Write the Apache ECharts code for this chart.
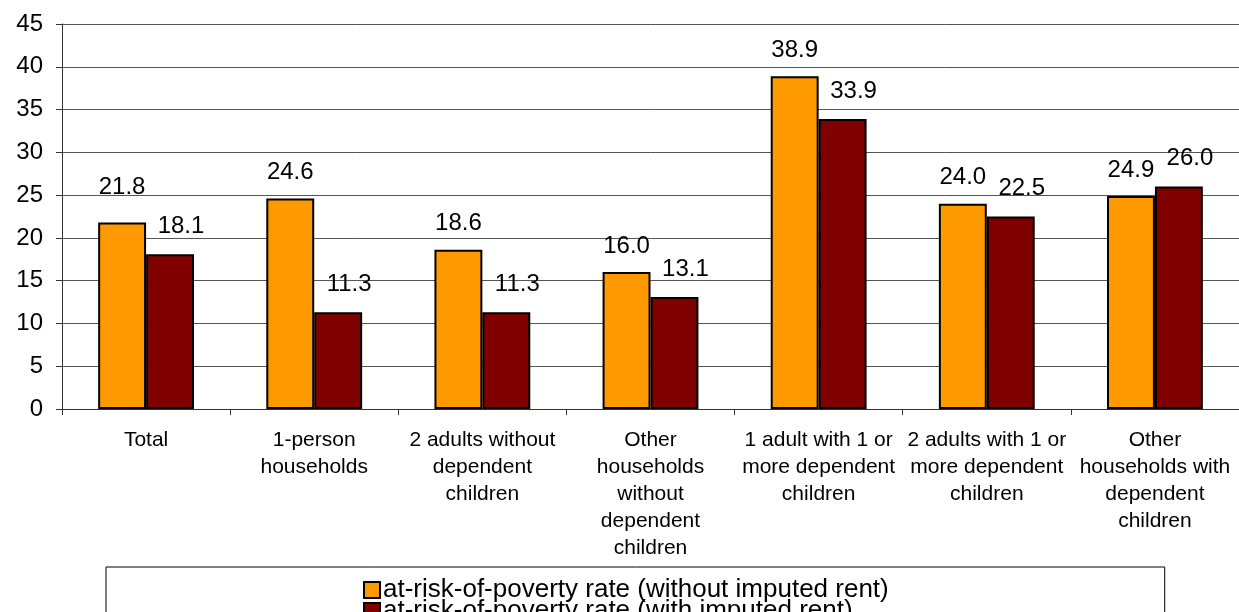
<!DOCTYPE html>
<html>
<head>
<meta charset="utf-8">
<script src="https://cdn.jsdelivr.net/npm/echarts@6/dist/echarts.min.js"></script>
<style>
  html, body { margin: 0; padding: 0; background: #fff; }
  #chart { width: 1239px; height: 612px; }
</style>
</head>
<body>
<div id="chart"></div>
<script>
var categories = [
  'Total',
  '1-person\nhouseholds',
  '2 adults without\ndependent\nchildren',
  'Other\nhouseholds\nwithout\ndependent\nchildren',
  '1 adult with 1 or\nmore dependent\nchildren',
  '2 adults with 1 or\nmore dependent\nchildren',
  'Other\nhouseholds with\ndependent\nchildren'
]
var seriesNames = [
  'at-risk-of-poverty rate (without imputed rent)',
  'at-risk-of-poverty rate (with imputed rent)'
]
var withoutRent = [21.8, 24.6, 18.6, 16.0, 38.9, 24.0, 24.9]
var withRent = [18.1, 11.3, 11.3, 13.1, 33.9, 22.5, 26.0]
var yTicks = [0, 5, 10, 15, 20, 25, 30, 35, 40, 45]

var font = "'Liberation Sans', Arial, sans-serif"

var echart = echarts.init(document.getElementById('chart'))

// first label in the reference sits a bit higher than the rest
var orangeData = withoutRent.map(function (v, i) {
  if (i === 0) return { value: v, label: { offset: [0, -9] } }
  return v
})

var option = {
  backgroundColor: '#fff',
  animation: false,
  grid: {
    left: 62,
    top: 24,
    width: 1183,
    height: 385,
    containLabel: false
  },
  legend: {
    data: seriesNames,
    orient: 'vertical',
    left: 106,
    top: 567,
    width: 1058,
    height: 100,
    padding: [10, 276, 10, 257],
    borderColor: '#000',
    borderWidth: 1,
    itemGap: -5,
    itemWidth: 16,
    itemHeight: 16,
    icon: 'rect',
    textStyle: {
      color: '#000',
      fontFamily: font,
      fontSize: 26,
      lineHeight: 16,
      padding: [0, 0, 0, -2]
    }
  },
  xAxis: [{
    type: 'category',
    data: categories,
    boundaryGap: true,
    axisLine: { show: true, lineStyle: { color: '#333', width: 1 } },
    axisTick: { show: true, length: 6, lineStyle: { color: '#333' } },
    axisLabel: {
      color: '#000',
      fontFamily: font,
      fontSize: 21,
      lineHeight: 27,
      margin: 18,
      interval: 0,
      align: 'center'
    },
    splitLine: { show: false }
  }],
  yAxis: [{
    type: 'value',
    min: yTicks[0],
    max: yTicks[yTicks.length - 1],
    interval: 5,
    axisLine: { show: true, lineStyle: { color: '#333', width: 1 } },
    axisTick: { show: true, inside: false, length: 6, lineStyle: { color: '#333' } },
    axisLabel: {
      color: '#000',
      fontFamily: font,
      fontSize: 24,
      margin: 19
    },
    splitLine: {
      show: true,
      lineStyle: { color: '#555', width: 1 }
    }
  }],
  series: [
    {
      name: seriesNames[0],
      type: 'bar',
      barGap: '0%',
      barCategoryGap: '43%',
      itemStyle: {
        color: '#FF9900',
        borderColor: '#000',
        borderWidth: 2
      },
      label: {
        show: true,
        position: 'top',
        distance: 14,
        color: '#000',
        fontFamily: font,
        fontSize: 24,
        formatter: function (p) { return p.value.toFixed(1) }
      },
      data: orangeData
    },
    {
      name: seriesNames[1],
      type: 'bar',
      barGap: '0%',
      barCategoryGap: '43%',
      itemStyle: {
        color: '#800000',
        borderColor: '#000',
        borderWidth: 2
      },
      label: {
        show: true,
        position: 'top',
        distance: 14,
        offset: [11, -2],
        color: '#000',
        fontFamily: font,
        fontSize: 24,
        formatter: function (p) { return p.value.toFixed(1) }
      },
      data: withRent
    }
  ]
}

echart.setOption(option)

window.onresize = function () {
  echart.resize()
}
</script>
</body>
</html>
